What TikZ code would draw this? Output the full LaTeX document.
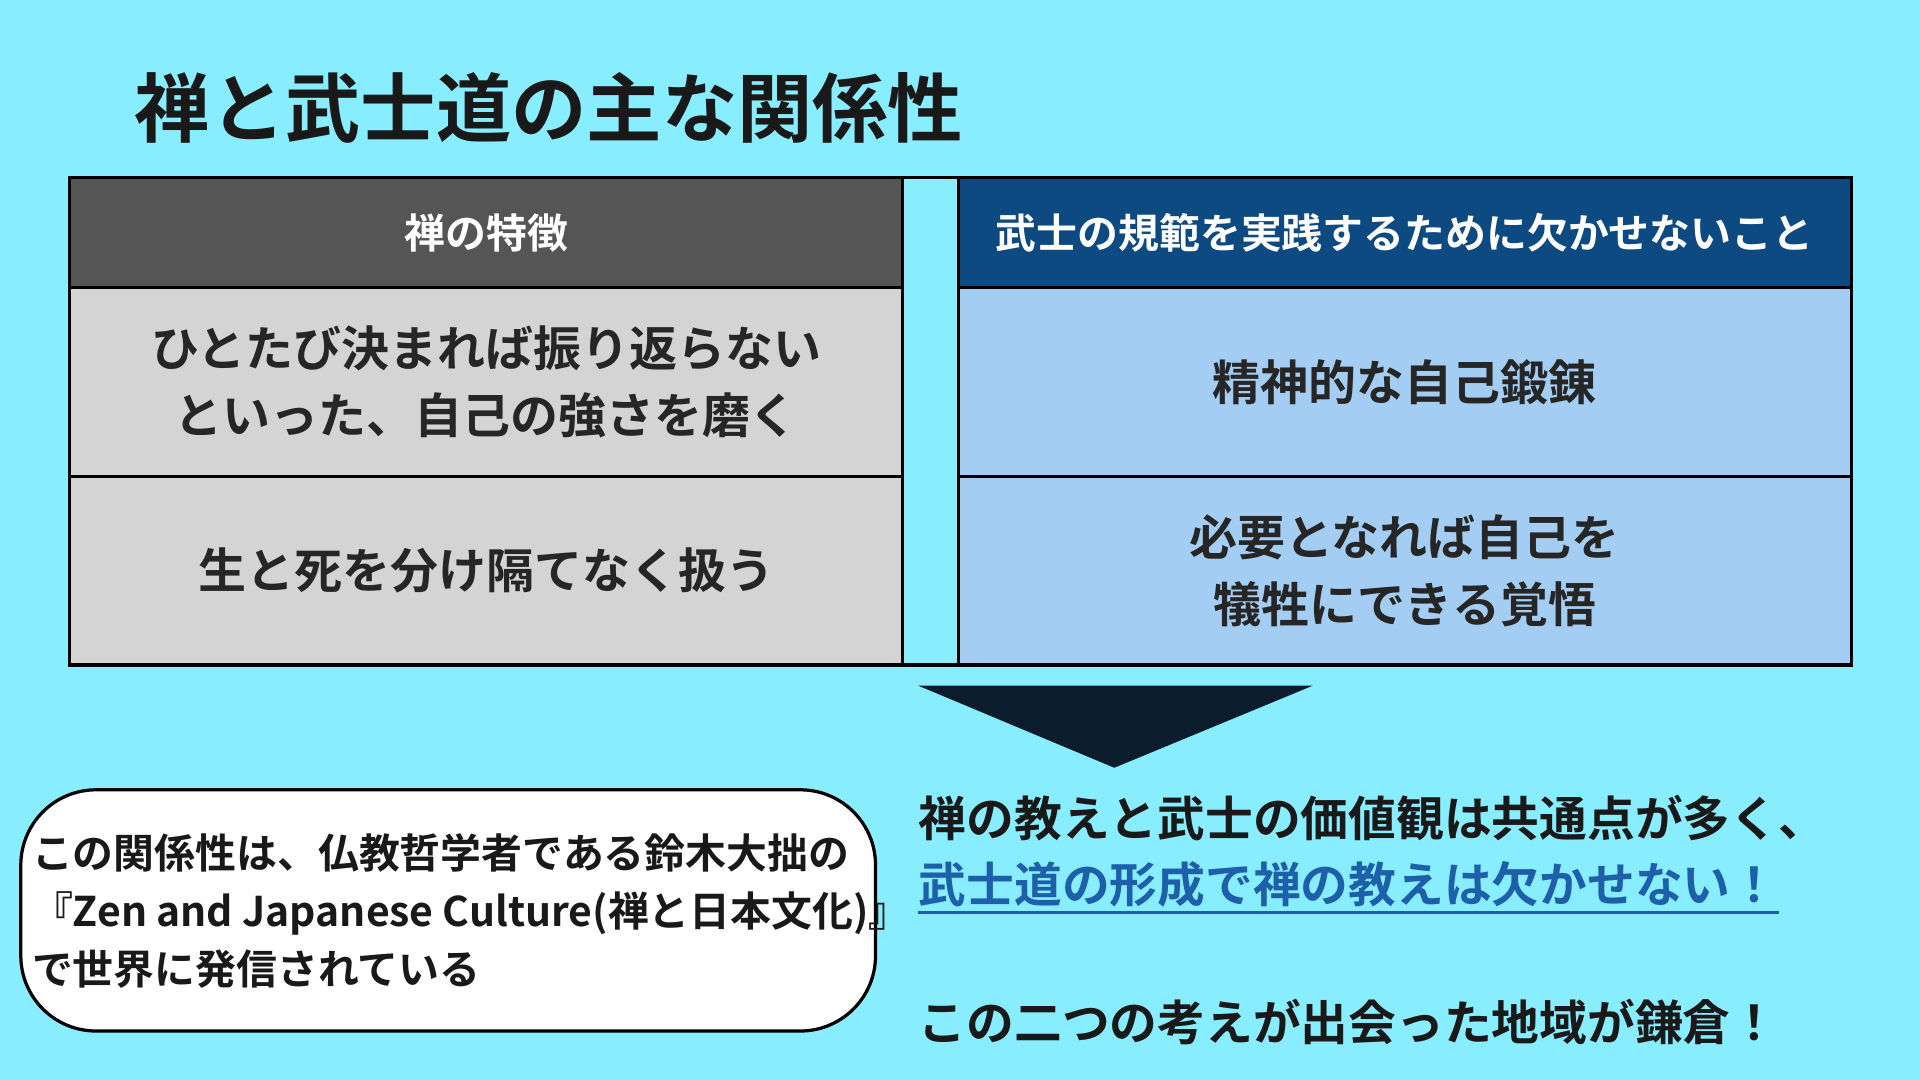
\documentclass[tikz,border=0pt]{standalone}
\usepackage{fontspec}
\setmainfont{Noto Sans CJK JP}[BoldFont={* Bold}]
\newfontfamily\cjkb{Noto Sans CJK JP Bold}
\definecolor{bg}{HTML}{88EDFF}
\definecolor{hdl}{HTML}{555555}
\definecolor{hdr}{HTML}{0D4A82}
\definecolor{cl}{HTML}{D4D4D4}
\definecolor{cr}{HTML}{A3CDF2}
\definecolor{tri}{HTML}{0B1D2C}
\definecolor{lnk}{HTML}{1E5FAA}
\begin{document}
\begin{tikzpicture}[x=0.02cm,y=-0.02cm,
  cell/.style={draw=black,line width=1.5pt},
  ct/.style={font=\cjkb\fontsize{22.3}{31}\selectfont,align=center,text=black!85},
  ht/.style={font=\cjkb\fontsize{19}{22}\selectfont,text=white},
  rt/.style={anchor=west,font=\cjkb\fontsize{22.2}{26}\selectfont,text=black!90,inner sep=0pt}]
\fill[bg] (0,0) rectangle (1568,882);
\useasboundingbox (0,0) rectangle (1568,882);
\node[anchor=west,font=\cjkb\fontsize{35}{40}\selectfont,text=black!90] (title) at (104,88) {禅と武士道の主な関係性};
\filldraw[cell,fill=hdl] (57,145) rectangle (737,235);
\filldraw[cell,fill=cl] (57,235) rectangle (737,389);
\filldraw[cell,fill=cl] (57,389) rectangle (737,543);
\filldraw[cell,fill=bg] (737,145) rectangle (783,543);
\filldraw[cell,fill=hdr] (783,145) rectangle (1512,235);
\filldraw[cell,fill=cr] (783,235) rectangle (1512,389);
\filldraw[cell,fill=cr] (783,389) rectangle (1512,543);
\node[ht] (h1) at (397,190) {禅の特徴};
\node[ht] (h2) at (1147,190) {武士の規範を実践するために欠かせないこと};
\node[ct] (a1) at (397,312) {ひとたび決まれば振り返らない\\といった、自己の強さを磨く};
\node[ct] (a2) at (397,466) {生と死を分け隔てなく扱う};
\node[ct] (b1) at (1147,312) {精神的な自己鍛錬};
\node[ct] (b2) at (1147,466) {必要となれば自己を\\犠牲にできる覚悟};
\fill[tri] (750,560) -- (1072,560) -- (910,627) -- cycle;
\filldraw[fill=white,draw=black,line width=1.5pt,rounded corners=35] (17,645) rectangle (715,842);
\node[anchor=west,align=left,font=\cjkb\fontsize{19}{27}\selectfont,text=black!90] (note) at (20,744)
 {この関係性は、仏教哲学者である鈴木大拙の\\『Zen and Japanese Culture(禅と日本文化)』\\で世界に発信されている};
\node[rt] (r1) at (750,668) {禅の教えと武士の価値観は共通点が多く、};
\node[rt,text=lnk] (r2) at (750,722) {武士道の形成で禅の教えは欠かせない！};
\draw[lnk,line width=1.5pt] (r2.south west) ++(0,4) coordinate (u1) -- (u1 -| r2.south east);
\node[rt] (r3) at (750,835) {この二つの考えが出会った地域が鎌倉！};
\end{tikzpicture}
\end{document}
